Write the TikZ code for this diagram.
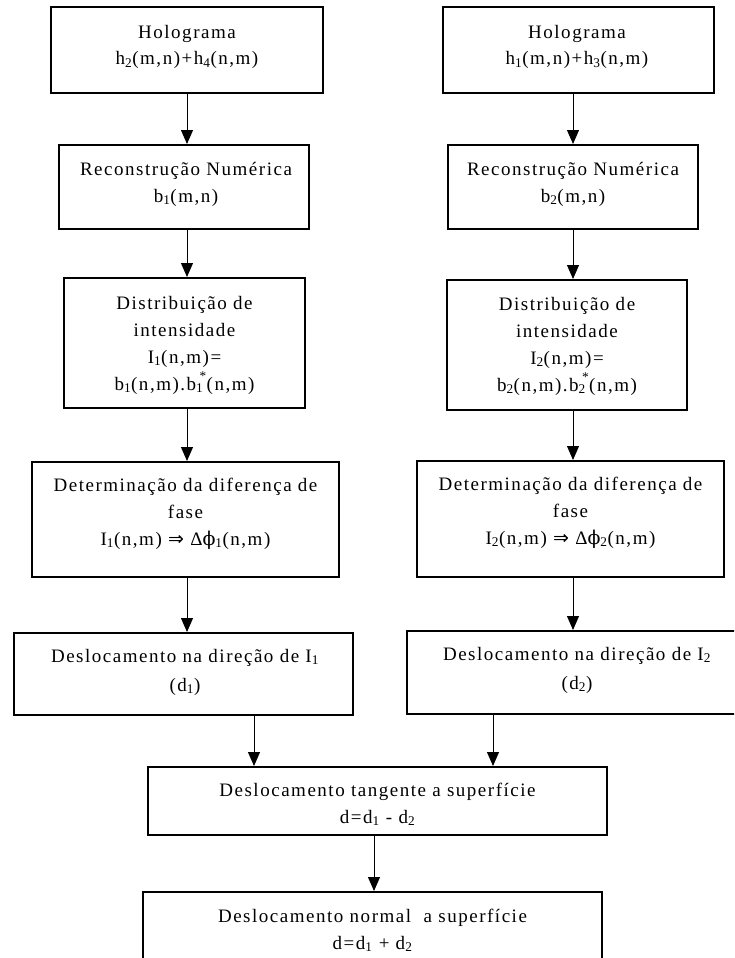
\documentclass[tikz,border=0pt]{standalone}
\usepackage{fontspec}
\setmainfont{Liberation Serif}[LetterSpace=8]
\newfontfamily\symfont{DejaVu Sans}
\newfontfamily\grkfont{DejaVu Serif}
\usetikzlibrary{arrows.meta}
\newcommand\sbs[1]{\textsubscript{#1}}
\newcommand\bstar[1]{b\textsubscript{#1}\kern-0.2em\raisebox{0.15em}{\textsuperscript{*}}}
\begin{document}
\begin{tikzpicture}[x=1pt,y=-1pt,
  box/.style={draw, line width=2pt, inner sep=0pt},
  txt/.style={anchor=base, align=center, inner sep=0pt, font=\fontsize{19}{27}\selectfont},
  arr/.style={line width=1pt, -{Triangle[length=14pt,width=12pt]}}]
\useasboundingbox (0,0) rectangle (734,958);
\clip (0,0) rectangle (734,958);
% left column boxes
\node[box, minimum width=272pt, minimum height=86pt] (L1) at (187,50) {};
\node[box, minimum width=250pt, minimum height=84pt] (L2) at (184,187) {};
\node[box, minimum width=241pt, minimum height=130pt] (L3) at (184.5,343) {};
\node[box, minimum width=307pt, minimum height=115pt] (L4) at (185.5,519.5) {};
\node[box, minimum width=339pt, minimum height=82pt] (L5) at (183.5,674) {};
% right column boxes
\node[box, minimum width=271pt, minimum height=86pt] (R1) at (578.5,50) {};
\node[box, minimum width=250pt, minimum height=84pt] (R2) at (573,187) {};
\node[box, minimum width=240pt, minimum height=130pt] (R3) at (567,345) {};
\node[box, minimum width=307pt, minimum height=116pt] (R4) at (570.5,519) {};
\node[box, minimum width=339pt, minimum height=83pt] (R5) at (576.5,672.5) {};
% bottom boxes
\node[box, minimum width=459pt, minimum height=68pt] (T) at (377.5,801) {};
\node[box, minimum width=459pt, minimum height=83pt] (B) at (372.5,933.5) {};
% texts (anchor base = baseline of the last line)
\node[txt] (L1t) at (187,65) {Holograma\\h\sbs{2}(m,n)+h\sbs{4}(n,m)};
\node[txt] (L2t) at (186,202) {Reconstrução Numérica\\b\sbs{1}(m,n)};
\node[txt] (L3t) at (184.5,390) {Distribuição de\\intensidade\\I\sbs{1}(n,m)=\\b\sbs{1}(n,m).\bstar{1}(n,m)};
\node[txt] (L4t) at (185.5,545) {Determinação da diferença de\\fase\\I\sbs{1}(n,m) {\symfont ⇒} Δ{\grkfont ϕ}\sbs{1}(n,m)};
\node[txt] (L5t) at (185,691) {Deslocamento na direção de I\sbs{1}\\[2pt](d\sbs{1})};
\node[txt] (R1t) at (577,65) {Holograma\\h\sbs{1}(m,n)+h\sbs{3}(n,m)};
\node[txt] (R2t) at (573,202) {Reconstrução Numérica\\b\sbs{2}(m,n)};
\node[txt] (R3t) at (567,391) {Distribuição de\\intensidade\\I\sbs{2}(n,m)=\\b\sbs{2}(n,m).\bstar{2}(n,m)};
\node[txt] (R4t) at (570.5,544) {Determinação da diferença de\\fase\\I\sbs{2}(n,m) {\symfont ⇒} Δ{\grkfont ϕ}\sbs{2}(n,m)};
\node[txt] (R5t) at (577,689) {Deslocamento na direção de I\sbs{2}\\[2pt](d\sbs{2})};
\node[txt] (Tt) at (377.5,823) {Deslocamento tangente a superfície\\d=d\sbs{1} - d\sbs{2}};
\node[txt] (Bt) at (372.5,949) {Deslocamento normal~ a superfície\\d=d\sbs{1} + d\sbs{2}};
% arrow x positions
\coordinate (xa) at (187,0);
\coordinate (xb) at (573,0);
\coordinate (xc) at (254,0);
\coordinate (xd) at (493,0);
\coordinate (xe) at (374,0);
% arrows
\draw[arr] (L1.south -| xa) -- (L2.north -| xa);
\draw[arr] (L2.south -| xa) -- (L3.north -| xa);
\draw[arr] (L3.south -| xa) -- (L4.north -| xa);
\draw[arr] (L4.south -| xa) -- (L5.north -| xa);
\draw[arr] (R1.south -| xb) -- (R2.north -| xb);
\draw[arr] (R2.south -| xb) -- (R3.north -| xb);
\draw[arr] (R3.south -| xb) -- (R4.north -| xb);
\draw[arr] (R4.south -| xb) -- (R5.north -| xb);
\draw[arr] (L5.south -| xc) -- (T.north -| xc);
\draw[arr] (R5.south -| xd) -- (T.north -| xd);
\draw[arr] (T.south -| xe) -- (B.north -| xe);
\end{tikzpicture}
\end{document}
